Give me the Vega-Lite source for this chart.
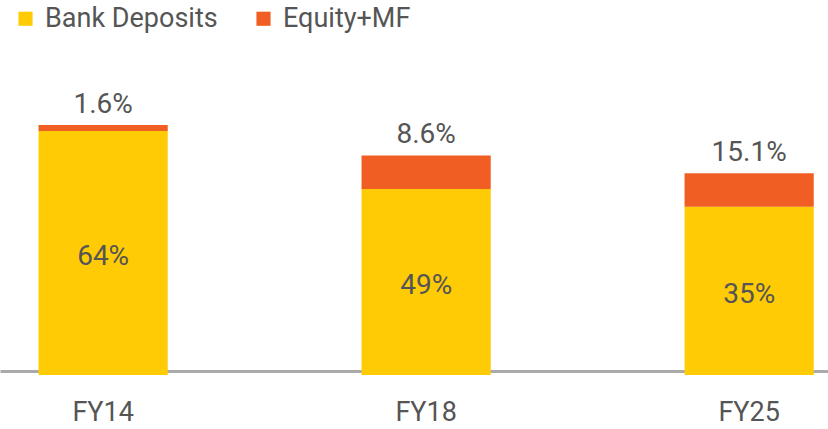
{
  "$schema": "https://vega.github.io/schema/vega-lite/v6.json",
  "width": 828,
  "height": 375,
  "autosize": "none",
  "padding": {"left": 0, "top": 0, "right": 0, "bottom": 54},
  "background": "white",
  "config": {"view": {"stroke": null}, "font": "Roboto"},
  "data": {
    "values": [
      {"fy": "FY14", "series": "Bank Deposits", "value": 64, "label": "64%"},
      {"fy": "FY14", "series": "Equity+MF", "value": 1.6, "label": "1.6%"},
      {"fy": "FY18", "series": "Bank Deposits", "value": 48.8, "label": "49%"},
      {"fy": "FY18", "series": "Equity+MF", "value": 8.8, "label": "8.6%"},
      {"fy": "FY25", "series": "Bank Deposits", "value": 44.1, "label": "35%"},
      {"fy": "FY25", "series": "Equity+MF", "value": 8.8, "label": "15.1%"}
    ]
  },
  "encoding": {
    "x": {
      "field": "fy",
      "type": "nominal",
      "scale": {"paddingInner": 0.6, "paddingOuter": 0.0817, "align": 0.73},
      "axis": {
        "title": null,
        "ticks": false,
        "labelAngle": 0,
        "offset": -4,
        "domainWidth": 3,
        "domainColor": "#aaaaaa",
        "labelFontSize": 27,
        "labelColor": "#555555",
        "labelFont": "Roboto",
        "labelPadding": 28,
        "grid": false
      }
    },
    "y": {
      "field": "value",
      "type": "quantitative",
      "stack": "zero",
      "scale": {"domain": [0, 98.36], "nice": false},
      "axis": null
    },
    "order": {"field": "series", "sort": "ascending"}
  },
  "layer": [
    {
      "mark": {"type": "bar"},
      "encoding": {
        "color": {
          "field": "series",
          "type": "nominal",
          "scale": {"domain": ["Bank Deposits", "Equity+MF"], "range": ["#FFCB05", "#F05E23"]},
          "legend": {
            "title": null,
            "orient": "none",
            "legendX": 12,
            "legendY": 5,
            "direction": "horizontal",
            "symbolType": "square",
            "symbolSize": 200,
            "symbolStrokeWidth": 0,
            "labelFontSize": 27,
            "labelFont": "Roboto",
            "labelColor": "#555555",
            "labelOffset": 6,
            "labelLimit": 400,
            "columnPadding": 32
          }
        }
      }
    },
    {
      "mark": {"type": "text", "baseline": "middle", "dy": 4, "fontSize": 28, "color": "#555555", "font": "Roboto"},
      "encoding": {
        "y": {"field": "value", "type": "quantitative", "stack": "zero", "bandPosition": 0.5},
        "detail": {"field": "series"},
        "text": {"condition": {"test": "datum.series === 'Bank Deposits'", "field": "label"}, "value": ""}
      }
    },
    {
      "mark": {"type": "text", "baseline": "alphabetic", "dy": -12, "fontSize": 28, "color": "#555555", "font": "Roboto"},
      "encoding": {
        "detail": {"field": "series"},
        "text": {"condition": {"test": "datum.series === 'Equity+MF'", "field": "label"}, "value": ""}
      }
    }
  ]
}
